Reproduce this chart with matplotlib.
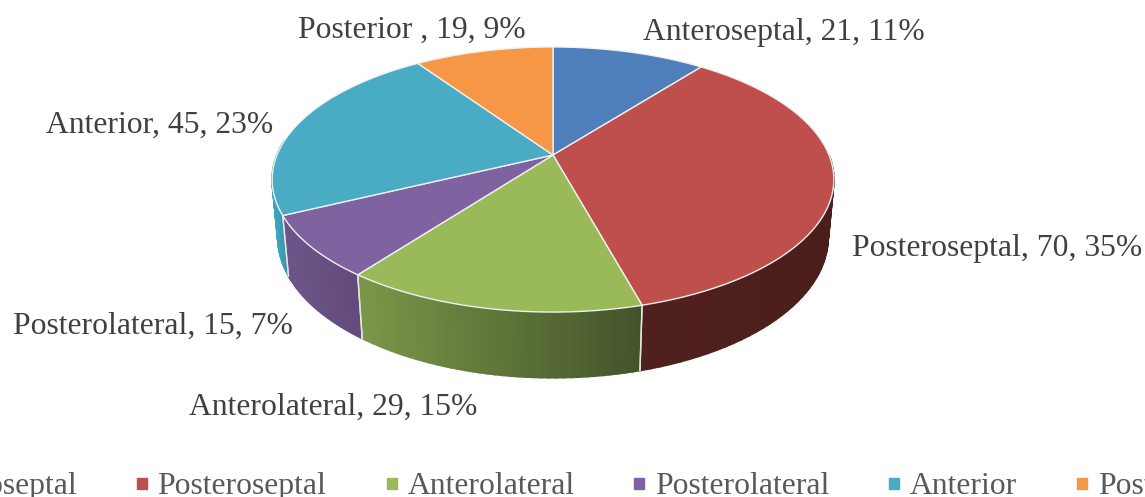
import numpy as np
import matplotlib
matplotlib.use('Agg')
import matplotlib.pyplot as plt
from matplotlib.colors import to_rgb
from matplotlib.patches import Rectangle

categories = ['Anteroseptal', 'Posteroseptal', 'Anterolateral',
              'Posterolateral', 'Anterior', 'Posterior']
values = [21, 70, 29, 15, 45, 19]
percents = [11, 35, 15, 7, 23, 9]
top_colors = ['#4e7fbb', '#be4f4c', '#9aba59', '#7f63a1', '#4aabc5', '#f59745']
# side wall shading, left -> right
side_colors = [('#2f4d72', '#2f4d72'), ('#4f201e', '#4b1e1c'), ('#7b9748', '#43532a'),
               ('#6c5589', '#624b7a'), ('#3a93ac', '#3a8fa8'), ('#94592a', '#94592a')]
label_names = ['Anteroseptal', 'Posteroseptal', 'Anterolateral',
               'Posterolateral', 'Anterior', 'Posterior ']
# left edge and baseline of each data label, pixels
label_pos = [(643, 40), (852, 256), (189, 415), (13, 334), (46, 133), (298, 38)]
legend_text_x = [78, 157, 408, 655, 910, 1098]
legend_mark_x = [None, 137, 387, 634, 889, 1077]

CX, CY = 553, 155
A, B, K, DEPTH, M = 276, 128, 0.185, 58, 0.02


def project(theta, z=0.0):
    # theta clockwise from the top of the pie, perspective view
    X, Y = np.sin(theta), np.cos(theta)
    w = 1 + K * Y + M * z
    return CX + A * X / w, CY - (B * Y - DEPTH * z) / w


fig = plt.figure(figsize=(11.45, 4.97), dpi=100)
ax = fig.add_axes([0, 0, 1, 1])
ax.set_xlim(0, 1145)
ax.set_ylim(497, 0)
ax.axis('off')
plt.rcParams['font.family'] = ['Liberation Serif']

edges = np.cumsum([0] + values) / sum(values) * 2 * np.pi

# side walls, only the part of the rim facing the viewer
for i in [4, 3, 1, 2]:
    lo, hi = max(edges[i], np.pi / 2), min(edges[i + 1], 3 * np.pi / 2 + 0.12)
    if hi <= lo:
        continue
    steps = np.linspace(lo, hi, 40)
    x_lo, x_hi = sorted([project(lo)[0], project(hi)[0]])
    c0, c1 = np.array(to_rgb(side_colors[i][0])), np.array(to_rgb(side_colors[i][1]))
    for a, b in zip(steps[:-1], steps[1:]):
        xa, ya = project(a)
        xb, yb = project(b)
        xc, yc = project(b, 1)
        xd, yd = project(a, 1)
        f = ((xa + xb) / 2 - x_lo) / max(x_hi - x_lo, 1)
        col = c0 + (c1 - c0) * f
        ax.fill([xa, xb, xc, xd], [ya, yb, yc, yd], color=col, lw=1.2, zorder=2)
    # white seam at the slice ends
    for t in (lo, hi):
        if t in (edges[i], edges[i + 1]):
            x0, y0 = project(t)
            x1, y1 = project(t, 1)
            ax.plot([x0, x1], [y0, y1], color='#e4e4e4', lw=1, zorder=3)

# top faces
for i in range(len(values)):
    t = np.linspace(edges[i], edges[i + 1], 120)
    x, y = project(t)
    ax.fill(np.r_[CX, x], np.r_[CY, y], facecolor=top_colors[i],
            edgecolor='#f0f0f0', lw=1, joinstyle='round', zorder=4)

for name, val, pct, (lx, ly) in zip(label_names, values, percents, label_pos):
    ax.text(lx, ly, f'{name}, {val}, {pct}%', fontsize=22.75, color='#404040',
            ha='left', va='baseline', zorder=6)

# legend runs off both sides of the picture
for i, name in enumerate(categories):
    ha = 'right' if i == 0 else 'left'
    ax.text(legend_text_x[i], 494, name, fontsize=22.75, color='#595959',
            ha=ha, va='baseline', clip_on=True)
    if legend_mark_x[i] is not None:
        ax.add_patch(Rectangle((legend_mark_x[i], 478), 10, 11, color=top_colors[i]))

fig.savefig('out.png', dpi=100)
